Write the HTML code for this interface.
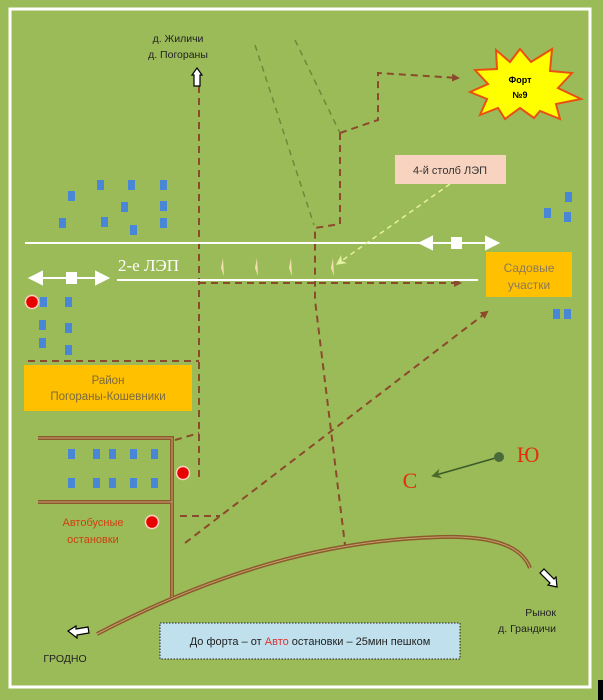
<!DOCTYPE html>
<html><head><meta charset="utf-8"><style>
html,body{margin:0;padding:0;background:#9bbb59;}
svg{display:block;}
text{font-family:"Liberation Sans","Noto Sans CJK SC",sans-serif;}
</style></head><body>
<svg width="603" height="700" viewBox="0 0 603 700" xmlns="http://www.w3.org/2000/svg">
<defs>
<marker id="ab" markerWidth="8" markerHeight="8" refX="6" refY="4" orient="auto" markerUnits="userSpaceOnUse"><path d="M0,0 L8,4 L0,8 Z" fill="#8b4a2b"/></marker>
<marker id="ag" markerWidth="10" markerHeight="10" refX="5" refY="5" orient="auto" markerUnits="userSpaceOnUse"><path d="M0,0 L10,5 L0,10 L3,5Z" fill="#e6f0a0"/></marker>
<marker id="ad" markerWidth="10" markerHeight="10" refX="5" refY="5" orient="auto" markerUnits="userSpaceOnUse"><path d="M0,0 L10,5 L0,10 L3,5Z" fill="#4a6a2a"/></marker>
</defs>
<rect width="603" height="700" fill="#9bbb59"/>
<rect x="10" y="9" width="580" height="678" fill="none" stroke="#fff" stroke-width="3"/>
<rect x="598" y="680" width="5" height="20" fill="#000"/>

<!-- green dashed -->
<path d="M255,45 L314,225" stroke="#6b8a3a" stroke-width="1.5" stroke-dasharray="6,5" fill="none"/>
<path d="M295,40 L340,133" stroke="#6b8a3a" stroke-width="1.5" stroke-dasharray="6,5" fill="none"/>
<!-- brown dashed -->
<g stroke="#8b4a2b" stroke-width="2" stroke-dasharray="7,5" fill="none">
<path d="M199,86 L199,478"/>
<path d="M340,133 L378,120 L378,73 L458,78" marker-end="url(#ab)"/>
<path d="M340,133 L340,224 L315,228 L315,300 L345,545"/>
<path d="M199,283 L460,283" marker-end="url(#ab)"/>
<path d="M28,361 L199,361"/>
<path d="M175,440 L199,433"/>
<path d="M180,516 L220,516"/>
<path d="M185,543 L487,312" marker-end="url(#ab)"/>
</g>

<!-- power lines -->
<line x1="25" y1="243" x2="420" y2="243" stroke="#fff" stroke-width="2"/>
<line x1="117" y1="280" x2="478" y2="280" stroke="#fff" stroke-width="2"/>
<g fill="#fff" stroke="#fff" stroke-width="2">
<line x1="430" y1="243" x2="490" y2="243"/>
<path d="M420,243 L432,237 L432,249Z"/><path d="M498,243 L486,237 L486,249Z"/>
<rect x="452" y="238" width="9" height="10"/>
<line x1="40" y1="278" x2="98" y2="278"/>
<path d="M30,278 L42,272 L42,284Z"/><path d="M108,278 L96,272 L96,284Z"/>
<rect x="67" y="273" width="9" height="10"/>
</g>
<text x="118" y="271" font-family="Liberation Serif,serif" font-size="17" fill="#fff" style="font-family:'Liberation Serif',serif">2-е ЛЭП</text>
<g fill="#f6deb0">
<path d="M223,258 L221,268 L224,276 Z"/><path d="M257,258 L255,268 L258,276 Z"/>
<path d="M291,258 L289,268 L292,276 Z"/><path d="M333,258 L331,268 L334,276 Z"/>
</g>

<!-- star -->
<path d="M520,49 L531,62 L552,49 L550,71 L572,73 L558,88 L581,99 L556,104 L560,119 L540,111 L534,118 L520,108 L505,119 L498,108 L480,115 L487,99 L470,92 L488,84 L475,70 L497,69 L496,50 L510,62 Z" fill="#ffff00" stroke="#e85010" stroke-width="2"/>
<text x="520" y="83" font-size="9" font-weight="bold" text-anchor="middle" fill="#000">Форт</text>
<text x="520" y="98" font-size="9" font-weight="bold" text-anchor="middle" fill="#000">№9</text>

<!-- 4-й столб -->
<rect x="395" y="155" width="111" height="29" fill="#f8d4c0"/>
<text x="450" y="174" font-size="11" text-anchor="middle" fill="#333">4-й столб ЛЭП</text>
<path d="M450,184 L340,262" stroke="#e6f0a0" stroke-width="1.5" stroke-dasharray="5,4" marker-end="url(#ag)"/>

<!-- Садовые -->
<rect x="486" y="252" width="86" height="45" fill="#ffc000"/>
<text x="529" y="272" font-size="12" text-anchor="middle" fill="#8a7a5a">Садовые</text>
<text x="529" y="289" font-size="12" text-anchor="middle" fill="#8a7a5a">участки</text>

<!-- Район -->
<rect x="24" y="365" width="168" height="46" fill="#ffc000"/>
<text x="108" y="384" font-size="11.5" text-anchor="middle" fill="#7a6a40">Район</text>
<text x="108" y="400" font-size="11.5" text-anchor="middle" fill="#7a6a40">Погораны-Кошевники</text>

<!-- blue houses -->
<g fill="#4a86d6">
<rect x="97" y="180" width="7" height="10"/><rect x="128" y="180" width="7" height="10"/><rect x="160" y="180" width="7" height="10"/>
<rect x="68" y="191" width="7" height="10"/><rect x="121" y="202" width="7" height="10"/><rect x="160" y="201" width="7" height="10"/>
<rect x="59" y="218" width="7" height="10"/><rect x="101" y="217" width="7" height="10"/><rect x="130" y="225" width="7" height="10"/><rect x="160" y="218" width="7" height="10"/>
<rect x="565" y="192" width="7" height="10"/><rect x="544" y="208" width="7" height="10"/><rect x="564" y="212" width="7" height="10"/>
<rect x="553" y="309" width="7" height="10"/><rect x="564" y="309" width="7" height="10"/>
<rect x="40" y="297" width="7" height="10"/><rect x="65" y="297" width="7" height="10"/>
<rect x="39" y="320" width="7" height="10"/><rect x="65" y="323" width="7" height="10"/>
<rect x="39" y="338" width="7" height="10"/><rect x="65" y="345" width="7" height="10"/>
<rect x="68" y="449" width="7" height="10"/><rect x="93" y="449" width="7" height="10"/><rect x="109" y="449" width="7" height="10"/><rect x="130" y="449" width="7" height="10"/><rect x="151" y="449" width="7" height="10"/>
<rect x="68" y="478" width="7" height="10"/><rect x="93" y="478" width="7" height="10"/><rect x="109" y="478" width="7" height="10"/><rect x="130" y="478" width="7" height="10"/><rect x="151" y="478" width="7" height="10"/>
</g>

<!-- red dots -->
<g fill="#e60000" stroke="#ffd0c0" stroke-width="1.5">
<circle cx="32" cy="302" r="6.5"/><circle cx="183" cy="473" r="6.5"/><circle cx="152" cy="522" r="6.5"/>
</g>

<!-- roads double -->
<g stroke="#8b5a2b" stroke-width="4" fill="none">
<path d="M38,438 L172,438 L172,597"/><path d="M38,502 L172,502"/>
<path d="M97,634 C220,570 330,540 440,537 C510,535 525,555 530,568"/>
</g>
<g stroke="#c8a070" stroke-width="1" fill="none">
<path d="M38,438 L172,438 L172,597"/><path d="M38,502 L172,502"/>
<path d="M97,634 C220,570 330,540 440,537 C510,535 525,555 530,568"/>
</g>

<!-- arrows white -->
<path d="M197,68 L202,75 L200,75 L200,86 L194,86 L194,75 L192,75 Z" fill="#fff" stroke="#000" stroke-width="1.2"/>
<path d="M68,631 L76,626 L76,629 L88,627 L89,633 L77,635 L77,638 Z" fill="#fff" stroke="#000" stroke-width="1.2"/>
<path d="M557,587 L548,585 L550,583 L540,573 L544,569 L554,579 L556,577 Z" fill="#fff" stroke="#000" stroke-width="1.2"/>

<!-- texts -->
<text x="178" y="42" font-size="10.5" text-anchor="middle" fill="#222">д. Жиличи</text>
<text x="178" y="58" font-size="10.5" text-anchor="middle" fill="#222">д. Погораны</text>
<text x="93" y="526" font-size="11" text-anchor="middle" fill="#d04010">Автобусные</text>
<text x="93" y="543" font-size="11" text-anchor="middle" fill="#d04010">остановки</text>
<text x="65" y="662" font-size="10.5" text-anchor="middle" fill="#222">ГРОДНО</text>
<text x="556" y="616" font-size="10.5" text-anchor="end" fill="#222">Рынок</text>
<text x="556" y="632" font-size="10.5" text-anchor="end" fill="#222">д. Грандичи</text>

<!-- info box -->
<rect x="160" y="623" width="300" height="36" fill="#bfe0ec" stroke="#222" stroke-width="1" stroke-dasharray="1.5,1.5"/>
<text x="310" y="645" font-size="11" text-anchor="middle" fill="#222">До форта – от <tspan fill="#e03030">Авто</tspan> остановки – 25мин  пешком</text>

<!-- compass -->
<line x1="499" y1="457" x2="436" y2="475" stroke="#3a5a2a" stroke-width="1.5" marker-end="url(#ad)"/>
<circle cx="499" cy="457" r="5" fill="#4a6a3a"/>
<text x="528" y="462" font-size="22" text-anchor="middle" fill="#e03010" style="font-family:'Liberation Serif',serif">Ю</text>
<text x="410" y="488" font-size="22" text-anchor="middle" fill="#e03010" style="font-family:'Liberation Serif',serif">С</text>
</svg>
</body></html>
